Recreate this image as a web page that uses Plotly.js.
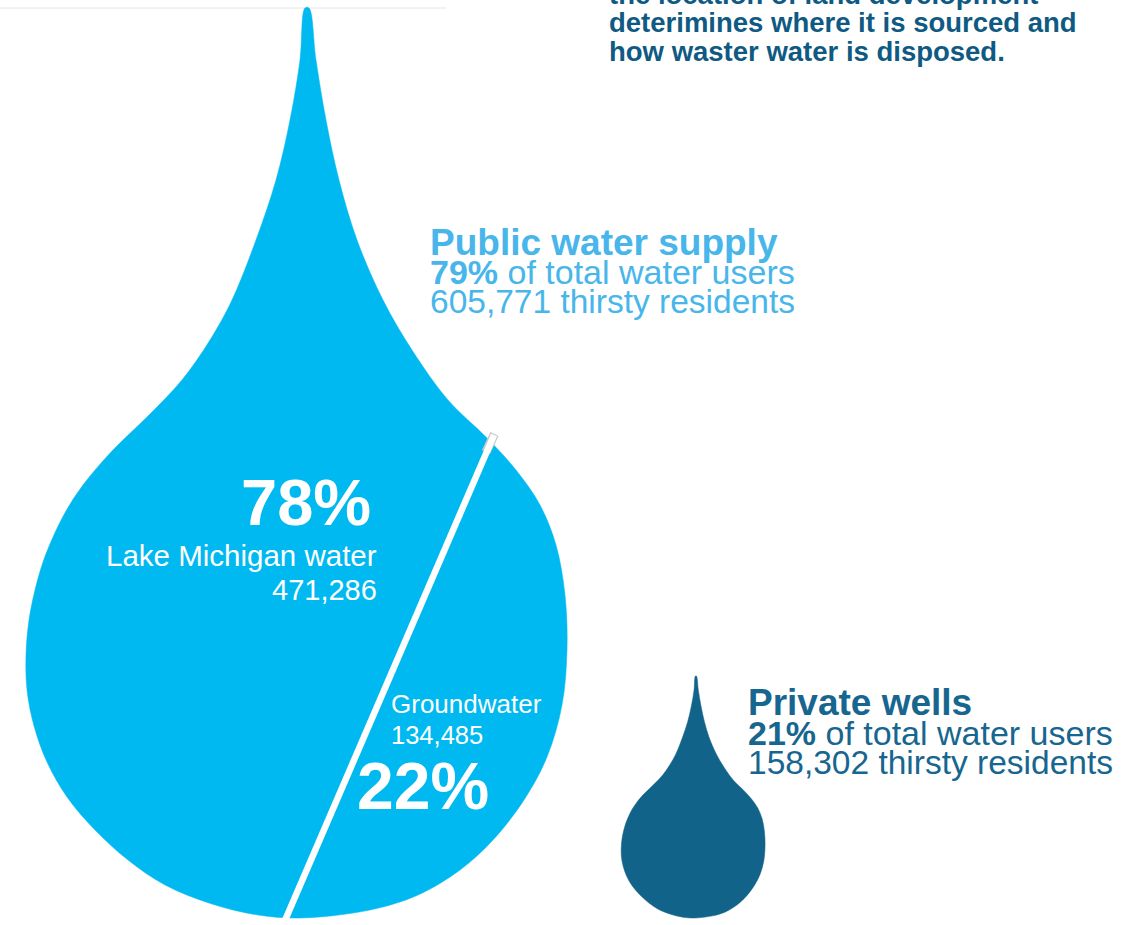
<!DOCTYPE html>
<html>
<head>
<meta charset="utf-8">
<script src="https://cdn.plot.ly/plotly-3.0.1.min.js"></script>
<style>
  html, body { margin: 0; padding: 0; background: #ffffff; }
  #chart { width: 1137px; height: 925px; }
</style>
</head>
<body>
<div id="chart"></div>
<script>
// ---------------- DATA ----------------
const categories = ["Public water supply", "Private wells"];
const sharePct = [79, 21];
const residents = [605771, 158302];

const publicSources = ["Lake Michigan water", "Groundwater"];
const sourcePct = [78, 22];
const sourceResidents = [471286, 134485];

const introLines = [
  "the location of land development",
  "deterimines where it is sourced and",
  "how waster water is disposed."
];

// ---------------- GEOMETRY (shape template, not data) ----------------
// Outline of a drop traced once at reference height 910 (tip at top), centre x=296, bottom y=918.
const TEMPLATE_H = 910, TEMPLATE_CX = 296, TEMPLATE_BOTTOM = 918;
const TEMPLATE_OUTLINE = [
  [309,8],[316,60],[326,120],[339,180],[357,240],[383,300],[412,350],[448,400],
  [487,438],[516,470],[540,505],[556,545],[565,595],[567,650],[562,705],[547,757],
  [524,800],[493,840],[460,870],[418,895],[370,910],[300,918],
  [258,915],[212,904],[165,885],[128,860],[95,830],[67,797],[47,762],[34,726],
  [27,690],[26,655],[29,620],[35,590],[43,562],[53,537],[66,511],[83,485],
  [112,451],[148,416],[182,380],[210,340],[232,300],[256,240],[276,180],
  [290,120],[300,60],[305,8]
];
const dropCenterX = [296, 693];
const dropBottomY = 918;
const dropColors = ["#00b9f1", "#126389"];
const textColors = ["#48b6ea", "#17668f"];
const introColor = "#0f5a83";
const FONT = "Liberation Sans, Arial, Helvetica, sans-serif";

const fmt = n => n.toLocaleString("en-US");

const traces = [];
// faint top rule
traces.push({x:[0,446], y:[8,8], mode:"lines", line:{color:"#e6e6e6", width:1}, hoverinfo:"skip"});

// drops: linear size proportional to share
categories.forEach((c, i) => {
  const scale = TEMPLATE_H * sharePct[i] / sharePct[0];
  const xs = [], ys = [];
  TEMPLATE_OUTLINE.forEach(p => {
    const u = (p[0] - TEMPLATE_CX) / TEMPLATE_H;
    const v = (p[1] - TEMPLATE_BOTTOM) / TEMPLATE_H;
    xs.push(dropCenterX[i] + u * scale);
    ys.push(dropBottomY + v * scale);
  });
  xs.push(xs[0]); ys.push(ys[0]);
  traces.push({
    x: xs, y: ys, mode: "lines", fill: "toself", fillcolor: dropColors[i],
    line: {color: dropColors[i], width: 0.5, shape: "spline", smoothing: 1},
    name: c, hoverinfo: "skip"
  });
});

// divider inside the public drop
traces.push({x:[494.5,486], y:[434,452], mode:"lines", line:{color:"#c8c8c8", width:9}, hoverinfo:"skip"});
traces.push({x:[494,280], y:[435,932], mode:"lines", line:{color:"#ffffff", width:6.5}, hoverinfo:"skip"});

function ann(text, x, y, size, color, xanchor, extra) {
  return Object.assign({
    text: text, x: x, y: y, xref: "x", yref: "y", showarrow: false,
    xanchor: xanchor, yanchor: "middle", borderpad: 0,
    font: {family: FONT, size: size, color: color}
  }, extra || {});
}

const annotations = [
  ann("<b>" + introLines[0] + "</b>", 608, 0, 27.5, introColor, "left", {yshift: 6}),
  ann("<b>" + introLines[1] + "</b>", 608, 22.5, 27.5, introColor, "left"),
  ann("<b>" + introLines[2] + "</b>", 608, 51, 27.5, introColor, "left"),

  ann("<b>" + categories[0] + "</b>", 429, 242.5, 37, textColors[0], "left"),
  ann("<b>" + sharePct[0] + "%</b> of total water users", 429, 272, 34, textColors[0], "left"),
  ann(fmt(residents[0]) + " thirsty residents", 429, 301, 33.5, textColors[0], "left"),

  ann("<b>" + categories[1] + "</b>", 747, 702.5, 37, textColors[1], "left"),
  ann("<b>" + sharePct[1] + "%</b> of total water users", 747, 733, 34, textColors[1], "left"),
  ann(fmt(residents[1]) + " thirsty residents", 747, 762, 33.5, textColors[1], "left"),

  ann("<b>" + sourcePct[0] + "%</b>", 372, 502.5, 65, "#ffffff", "right"),
  ann(publicSources[0], 378, 555, 29.5, "#ffffff", "right"),
  ann(fmt(sourceResidents[0]), 378, 589.5, 29, "#ffffff", "right"),

  ann(publicSources[1], 390, 703.5, 26, "#ffffff", "left"),
  ann(fmt(sourceResidents[1]), 390, 735, 25.5, "#ffffff", "left"),
  ann("<b>" + sourcePct[1] + "%</b>", 356, 785.5, 66, "#ffffff", "left")
];

const layout = {
  width: 1137, height: 925,
  margin: {l:0, r:0, t:0, b:0, pad:0},
  paper_bgcolor: "#ffffff", plot_bgcolor: "#ffffff",
  showlegend: false,
  xaxis: {range:[0,1137], visible:false, fixedrange:true},
  yaxis: {range:[925,0], visible:false, fixedrange:true},
  annotations: annotations
};

Plotly.newPlot("chart", traces, layout, {displayModeBar:false, staticPlot:true});
</script>
</body>
</html>
